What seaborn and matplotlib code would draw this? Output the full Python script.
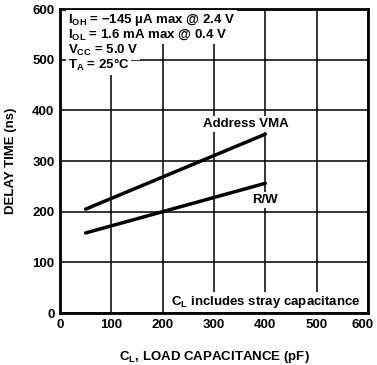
import matplotlib
matplotlib.use("Agg")
import matplotlib.pyplot as plt
import matplotlib.transforms as mtransforms
import seaborn as sns
import pandas as pd

# Delay time vs. load capacitance
load_pf = [50, 400]
address_vma_ns = [205, 353]
rw_ns = [158, 256]
x_ticks = [0, 100, 200, 300, 400, 500, 600]
y_ticks = [0, 100, 200, 300, 400, 500, 600]

sns.set_theme(style="white")
plt.rcParams["font.family"] = ["Liberation Sans", "DejaVu Sans"]
plt.rcParams["font.weight"] = "bold"
plt.rcParams["mathtext.fontset"] = "custom"
plt.rcParams["mathtext.rm"] = "Liberation Sans:bold"
plt.rcParams["mathtext.it"] = "Liberation Sans:bold"
plt.rcParams["mathtext.bf"] = "Liberation Sans:bold"
plt.rcParams["mathtext.default"] = "rm"

FS = 9.5

df = pd.DataFrame({
    "load": load_pf * 2,
    "delay": address_vma_ns + rw_ns,
    "signal": ["Address VMA"] * len(load_pf) + ["R/W"] * len(load_pf),
})

fig = plt.figure(figsize=(3.77, 3.65), dpi=100)
ax = fig.add_axes([60 / 377, 1 - 313 / 365, 308 / 377, 304 / 365])

sns.lineplot(data=df, x="load", y="delay", units="signal", estimator=None,
             color="black", linewidth=2.5, ax=ax, legend=False)

ax.set_xlim(0, 600)
ax.set_ylim(0, 600)
ax.set_xticks(x_ticks)
ax.set_yticks(y_ticks)
ax.set_xticklabels([str(v) for v in x_ticks], fontsize=FS, fontweight="bold")
ax.set_yticklabels([str(v) for v in y_ticks], fontsize=FS, fontweight="bold")
ax.grid(True, color="black", linewidth=1.1)
ax.set_axisbelow(True)
for s in ax.spines.values():
    s.set_color("black")
    s.set_linewidth(2.0)
ax.tick_params(axis="both", length=0, pad=4, colors="black")

# keep the rightmost x tick label inside the figure
last = ax.get_xticklabels()[-1]
last.set_transform(last.get_transform() +
                   mtransforms.ScaledTranslation(-5 / 100, 0, fig.dpi_scale_trans))

ax.set_xlabel(r"C$_{L}$, LOAD CAPACITANCE (pF)", fontsize=FS, fontweight="bold",
              labelpad=13.5, color="black")
ax.set_ylabel("DELAY TIME (ns)", fontsize=FS, fontweight="bold", labelpad=11,
              color="black")

box = dict(facecolor="white", edgecolor="none", pad=1.5)
cond = [
    r"I$_{OH}$ = −145 µA max @ 2.4 V",
    r"I$_{OL}$ = 1.6 mA max @ 0.4 V",
    r"V$_{CC}$ = 5.0 V",
    r"T$_{A}$ = 25°C",
]
for i, t in enumerate(cond):
    ax.text(15, 578 - i * 29.5, t, fontsize=FS, fontweight="bold", va="center",
            ha="left", color="black", bbox=box)

ax.text(362, 373, "Address VMA", fontsize=FS, fontweight="bold", ha="center",
        va="center", color="black", bbox=box)
ax.text(400, 223, "R/W", fontsize=FS, fontweight="bold", ha="center",
        va="center", color="black", bbox=box)
ax.text(585, 22, r"C$_{L}$ includes stray capacitance", fontsize=FS,
        fontweight="bold", ha="right", va="center", color="black", bbox=box)

fig.savefig("out.png", dpi=100)
